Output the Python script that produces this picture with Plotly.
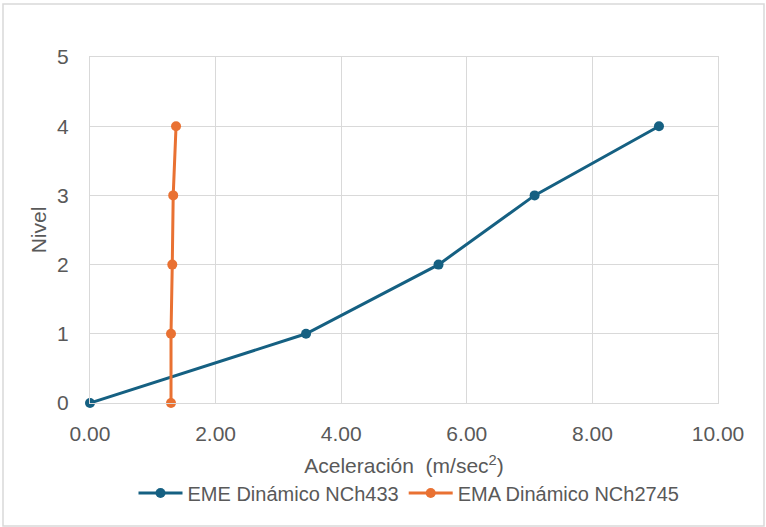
import plotly.graph_objects as go

# Data
nivel = [0, 1, 2, 3, 4]
eme_acc = [0.00, 3.44, 5.55, 7.08, 9.06]
ema_acc = [1.29, 1.29, 1.31, 1.325, 1.37]
series_names = ["EME Dinámico NCh433", "EMA Dinámico NCh2745"]
colors = ["#156082", "#E97132"]

W, H = 766, 527
L, R, T, B = 90, 48, 57, 124
pw, ph = W - L - R, H - T - B

def px_x(px):
    return (px - L) / pw

def px_y(py):
    return (H - B - py) / ph

fig = go.Figure()
for xs, name, col in [(eme_acc, series_names[0], colors[0]), (ema_acc, series_names[1], colors[1])]:
    fig.add_trace(go.Scatter(x=xs, y=nivel, mode="lines+markers", name=name,
                             line=dict(color=col, width=3),
                             marker=dict(color=col, size=10), cliponaxis=False))

font_family = "Liberation Sans, Arial, sans-serif"
tick_color = "#595959"
grid = "#d9d9d9"

fig.update_layout(
    width=W, height=H,
    margin=dict(l=L, r=R, t=T, b=B),
    paper_bgcolor="white", plot_bgcolor="white",
    font=dict(family=font_family, size=20, color=tick_color),
    showlegend=True,
    legend=dict(orientation="h", x=px_x(409), xanchor="center", y=px_y(493), yanchor="middle",
                font=dict(size=20, color=tick_color), itemwidth=44, bgcolor="rgba(0,0,0,0)"),
    xaxis=dict(range=[0, 10], tickvals=[0, 2, 4, 6, 8, 10], ticktext=["0.00", "2.00", "4.00", "6.00", "8.00", "10.00"],
               showgrid=True, gridcolor=grid, gridwidth=1, zeroline=False,
               showline=True, linecolor=grid, linewidth=1, mirror=True,
               ticks="", tickfont=dict(size=21, color=tick_color), ticklabelstandoff=12,
               title=dict(text="Aceleración  (m/sec<sup>2</sup>)", font=dict(size=21, color=tick_color), standoff=14)),
    yaxis=dict(range=[0, 5], tickvals=[0, 1, 2, 3, 4, 5],
               showgrid=True, gridcolor=grid, gridwidth=1, zeroline=False,
               showline=True, linecolor=grid, linewidth=1, mirror=True,
               ticks="", tickfont=dict(size=21, color=tick_color), ticklabelstandoff=16,
               title=dict(text="Nivel", font=dict(size=21, color=tick_color), standoff=4)),
    shapes=[dict(type="rect", xref="paper", yref="paper",
                 x0=px_x(3), x1=px_x(764), y0=px_y(526), y1=px_y(4),
                 line=dict(color="#d9d9d9", width=1.5), fillcolor="rgba(0,0,0,0)", layer="below")],
)

fig.write_html("out.html")
